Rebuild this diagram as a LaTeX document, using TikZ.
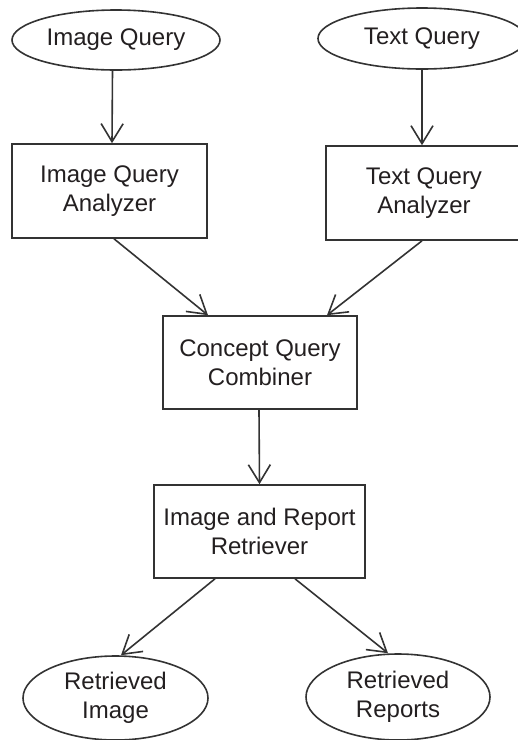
\documentclass[tikz,border=0pt]{standalone}
\usepackage{fontspec}
\setmainfont{Liberation Sans}
\usetikzlibrary{shapes.geometric,arrows.meta}
\definecolor{linegrey}{RGB}{51,51,51}
\definecolor{textgrey}{RGB}{35,31,32}

\begin{document}
\begin{tikzpicture}[
    x=1pt, y=-1pt,
    basenode/.style={draw=linegrey, line width=1.6pt, inner sep=0pt, align=center,
        text=textgrey, font=\fontsize{24}{29}\selectfont},
    querynode/.style={basenode, ellipse},
    stagebox/.style={basenode, rectangle},
    flow/.style={-{Straight Barb[length=18pt,width=22pt]}, draw=linegrey, line width=1.6pt},
]
    \useasboundingbox (0,0) rectangle (518,740);
    \node[querynode, minimum width=208pt, minimum height=60pt] (iq) at (116,40) {Image Query};
    \node[querynode, minimum width=208pt, minimum height=61pt] (tq) at (422,38.5) {Text Query};
    \node[stagebox, minimum width=195pt, minimum height=94pt] (iqa) at (109.5,191) {Image Query\\Analyzer};
    \node[stagebox, minimum width=196pt, minimum height=94pt] (tqa) at (424,193) {Text Query\\Analyzer};
    \node[stagebox, minimum width=194pt, minimum height=93pt] (cqc) at (260,362.5) {Concept Query\\Combiner};
    \node[stagebox, minimum width=211pt, minimum height=93pt] (irr) at (259.5,531.5) {Image and Report\\Retriever};
    \node[querynode, minimum width=185pt, minimum height=84pt] (rimg) at (115.5,698) {Retrieved\\Image};
    \node[querynode, minimum width=184pt, minimum height=86pt] (rrep) at (398,697) {Retrieved\\Reports};
    \draw[flow] ([xshift=-3.5pt]iq.south) -- ([xshift=2.5pt]iqa.north);
    \draw[flow] (tq.south) -- ([xshift=-2pt]tqa.north);
    \draw[flow] ([xshift=4.5pt]iqa.south) -- ([xshift=-52pt]cqc.north);
    \draw[flow] ([xshift=-2pt]tqa.south) -- ([xshift=67pt]cqc.north);
    \draw[flow] ([xshift=-1pt]cqc.south) -- (irr.north);
    \draw[flow] ([xshift=-44.5pt]irr.south) -- ([xshift=5.5pt]rimg.north);
    \draw[flow] ([xshift=35.5pt]irr.south) -- ([xshift=-10pt]rrep.north);
\end{tikzpicture}
\end{document}
